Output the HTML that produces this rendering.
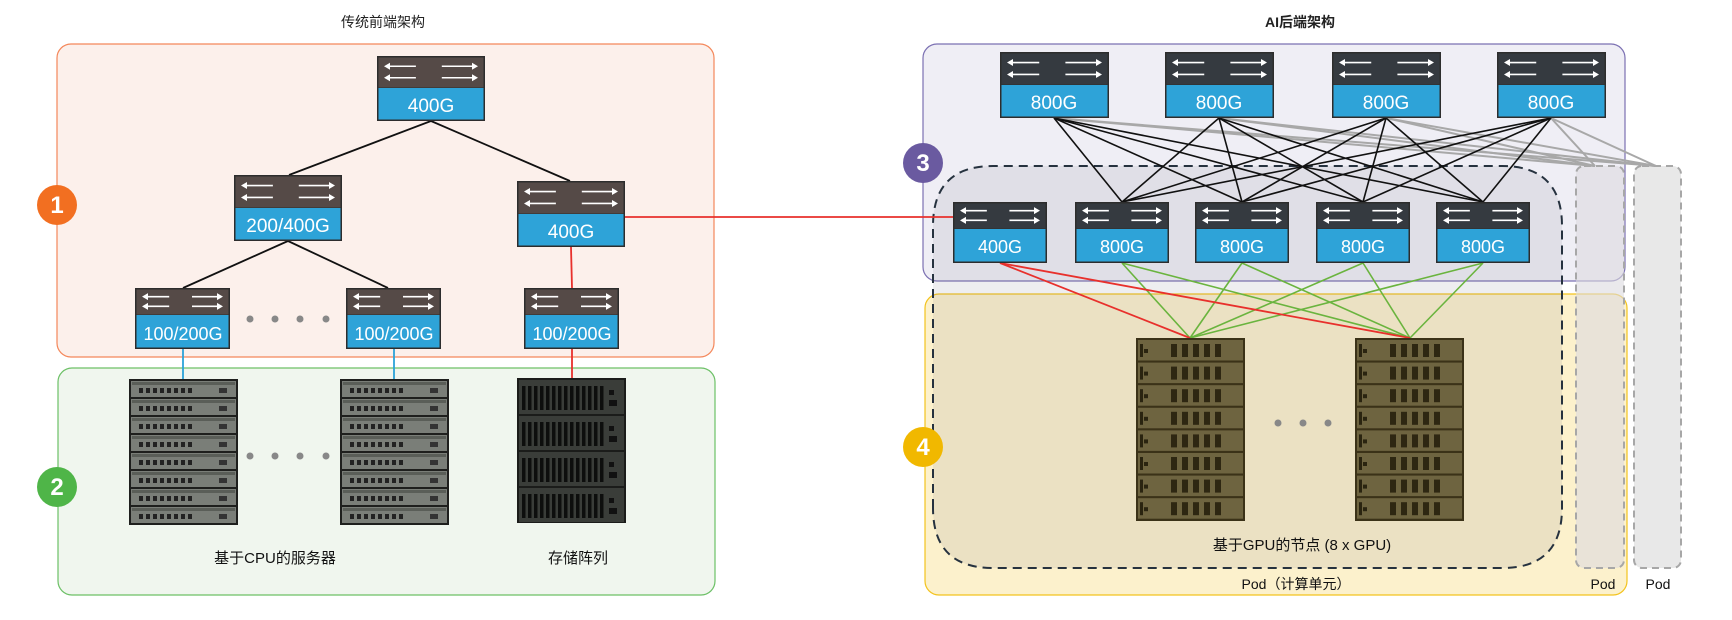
<!DOCTYPE html>
<html><head><meta charset="utf-8">
<style>
html,body{margin:0;padding:0;background:#fff;}
svg{display:block;}
text{font-family:"Liberation Sans","Noto Sans CJK SC",sans-serif;}
</style></head>
<body>
<svg id="s" width="1732" height="620" viewBox="0 0 1732 620" xmlns="http://www.w3.org/2000/svg">
<rect width="1732" height="620" fill="#fff"/>
<!-- Left boxes -->
<rect x="57" y="44" width="657" height="313" rx="14" fill="#fcf0eb" stroke="#f4875a" stroke-width="1.2"/>
<rect x="58" y="368" width="657" height="227" rx="14" fill="#f0f6ee" stroke="#6cc066" stroke-width="1.2"/>
<!-- Right boxes -->
<rect x="923" y="44" width="702" height="237" rx="14" fill="#efeef5" stroke="#7b70b2" stroke-width="1.2"/>
<rect x="925" y="294" width="702" height="301" rx="14" fill="#fcf1cc" stroke="#f3c31d" stroke-width="1.2"/>
<rect x="1576" y="166" width="48" height="402" rx="8" fill="#dcdbe0" fill-opacity="0.6" stroke="#a7a7a7" stroke-width="2" stroke-dasharray="7,5"/>
<rect x="1634" y="166" width="47" height="402" rx="8" fill="#e8e8e8" stroke="#a7a7a7" stroke-width="2" stroke-dasharray="7,5"/>
<path d="M933,508 L933,226 Q933,166 993,166 L1502,166 Q1562,166 1562,226 L1562,508 Q1562,568 1502,568 L993,568 Q933,568 933,508 Z" fill="#7a7a8a" fill-opacity="0.13" stroke="#26323f" stroke-width="2" stroke-dasharray="9,6"/>

<g id="lines"></g>
<g id="devs"></g>

<!-- Circles -->
<circle cx="57" cy="205" r="20" fill="#f26f21"/><text x="57" y="213" font-size="24" font-weight="bold" fill="#fff" text-anchor="middle">1</text>
<circle cx="57" cy="487" r="20" fill="#4fb548"/><text x="57" y="495" font-size="24" font-weight="bold" fill="#fff" text-anchor="middle">2</text>
<circle cx="923" cy="163" r="20" fill="#6a5aa0"/><text x="923" y="171" font-size="24" font-weight="bold" fill="#fff" text-anchor="middle">3</text>
<circle cx="923" cy="447" r="20" fill="#f1b800"/><text x="923" y="455" font-size="24" font-weight="bold" fill="#fff" text-anchor="middle">4</text>

<!-- Titles -->
<text x="383" y="27" font-size="14" fill="#222" text-anchor="middle">传统前端架构</text>
<text x="1300" y="27" font-size="14" font-weight="bold" fill="#222" text-anchor="middle">AI后端架构</text>
<text x="275" y="563" font-size="15" fill="#111" text-anchor="middle">基于CPU的服务器</text>
<text x="578" y="563" font-size="15" fill="#111" text-anchor="middle">存储阵列</text>
<text x="1302" y="550" font-size="15" fill="#111" text-anchor="middle">基于GPU的节点 (8 x GPU)</text>
<text x="1296" y="589" font-size="14" fill="#111" text-anchor="middle">Pod（计算单元）</text>
<text x="1603" y="589" font-size="14" fill="#111" text-anchor="middle">Pod</text>
<text x="1658" y="589" font-size="14" fill="#111" text-anchor="middle">Pod</text>

<!-- dots -->
<g fill="#888">
<circle cx="250" cy="319" r="3.5"/><circle cx="275" cy="319" r="3.5"/><circle cx="300" cy="319" r="3.5"/><circle cx="326" cy="319" r="3.5"/>
<circle cx="250" cy="456" r="3.5"/><circle cx="275" cy="456" r="3.5"/><circle cx="300" cy="456" r="3.5"/><circle cx="326" cy="456" r="3.5"/>
<circle cx="1278" cy="423" r="3.5"/><circle cx="1303" cy="423" r="3.5"/><circle cx="1328" cy="423" r="3.5"/>
</g>

<!-- switch labels -->
<g font-size="19" fill="#fff" text-anchor="middle">
<text x="431" y="112">400G</text>
<text x="288" y="232">200/400G</text>
<text x="571" y="238">400G</text>
<text x="183" y="340" font-size="18">100/200G</text>
<text x="394" y="340" font-size="18">100/200G</text>
<text x="572" y="340" font-size="18">100/200G</text>
<text x="1054" y="109">800G</text>
<text x="1219" y="109">800G</text>
<text x="1386" y="109">800G</text>
<text x="1551" y="109">800G</text>
<text x="1000" y="253" font-size="18">400G</text>
<text x="1122" y="253" font-size="18">800G</text>
<text x="1242" y="253" font-size="18">800G</text>
<text x="1363" y="253" font-size="18">800G</text>
<text x="1483" y="253" font-size="18">800G</text>
</g>
</svg>
<script>
(function(){
var NS="http://www.w3.org/2000/svg";
var L=document.getElementById('lines'),D=document.getElementById('devs');
function el(p,t,a){var e=document.createElementNS(NS,t);for(var k in a)e.setAttribute(k,a[k]);p.appendChild(e);return e;}
function ln(x1,y1,x2,y2,c,w){el(L,'line',{x1:x1,y1:y1,x2:x2,y2:y2,stroke:c,'stroke-width':w||1.5});}
ln(431,121,289,175,'#111',1.8);ln(431,121,570,181,'#111',1.8);
ln(288,241,183,288,'#111',1.8);ln(288,241,388,288,'#111',1.8);
ln(571,247,572,288,'#e8302c',1.8);
ln(183,349,183,379,'#2aa3d8',1.8);ln(394,349,394,379,'#2aa3d8',1.8);
ln(572,349,572,378,'#e8302c',1.8);
ln(625,217,953,217,'#e8302c',1.8);
var sp=[1054,1219,1386,1551],lf=[1122,1242,1363,1483];
sp.forEach(function(s){[1595,1656].forEach(function(p){ln(s,118,p,166,'#a8a8a8',2);});});
sp.forEach(function(s){lf.forEach(function(f){ln(s,118,f,202,'#111',1.6);});});
lf.forEach(function(f){[1190,1410].forEach(function(g){ln(f,263,g,338,'#6ab43e',1.6);});});
[1190,1410].forEach(function(g){ln(1000,263,g,338,'#e8302c',1.8);});
function sw(x,y,w,h,dh,dark){
 el(D,'rect',{x:x,y:y,width:w,height:h,fill:'#2d2d2d'});
 el(D,'rect',{x:x+1.5,y:y+1.5,width:w-3,height:dh-2,fill:dark});
 el(D,'rect',{x:x+1.5,y:y+dh,width:w-3,height:h-dh-1.5,fill:'#2ea3d8'});
 var ys=[y+dh*0.32,y+dh*0.68];
 ys.forEach(function(yy){
  el(D,'line',{x1:x+10,y1:yy,x2:x+w*0.36,y2:yy,stroke:'#fff','stroke-width':1.6});
  el(D,'path',{d:'M'+(x+7)+','+yy+' l6,-3.5 v7 z',fill:'#fff'});
  el(D,'line',{x1:x+w*0.6,y1:yy,x2:x+w-10,y2:yy,stroke:'#fff','stroke-width':1.6});
  el(D,'path',{d:'M'+(x+w-7)+','+yy+' l-6,-3.5 v7 z',fill:'#fff'});
 });
}
var bd='#554a47',rd='#353a40';
sw(377,56,108,65,32,bd);sw(234,175,108,66,33,bd);sw(517,181,108,66,33,bd);
sw(135,288,95,61,27,bd);sw(346,288,95,61,27,bd);sw(524,288,95,61,27,bd);
[1000,1165,1332,1497].forEach(function(x){sw(x,52,109,66,33,rd);});
[953,1075,1195,1316,1436].forEach(function(x){sw(x,202,94,61,27,rd);});
function cpu(x,y){
 el(D,'rect',{x:x,y:y,width:109,height:146,fill:'#1e1f1d'});
 for(var i=0;i<8;i++){var yy=y+2+i*18;
  el(D,'rect',{x:x+2,y:yy,width:105,height:16,fill:'#7a7e78'});
  el(D,'rect',{x:x+3,y:yy+1,width:103,height:3,fill:'#5a5e58'});
  for(var j=0;j<8;j++)el(D,'rect',{x:x+10+j*7,y:yy+7,width:4,height:5,fill:'#222'});
  el(D,'rect',{x:x+90,y:yy+7,width:8,height:5,fill:'#333'});
 }
}
cpu(129,379);cpu(340,379);
(function(x,y){
 el(D,'rect',{x:x,y:y,width:109,height:145,fill:'#1b1c1a'});
 for(var i=0;i<4;i++){var yy=y+2+i*36;
  el(D,'rect',{x:x+2,y:yy,width:105,height:34,fill:'#3a3d39'});
  for(var j=0;j<14;j++)el(D,'rect',{x:x+5+j*6,y:yy+6,width:3.5,height:24,fill:'#0d0e0d'});
  el(D,'rect',{x:x+92,y:yy+10,width:5,height:5,fill:'#111'});
  el(D,'rect',{x:x+92,y:yy+20,width:8,height:6,fill:'#111'});
 }
})(517,378);
function gpu(x,y){
 el(D,'rect',{x:x,y:y,width:109,height:183,fill:'#3b3218'});
 for(var i=0;i<8;i++){var yy=y+2+i*22.6;
  el(D,'rect',{x:x+2,y:yy,width:105,height:20.5,fill:'#6e6440'});
  el(D,'rect',{x:x+4,y:yy+4,width:3,height:13,fill:'#2a2410'});
  el(D,'rect',{x:x+8,y:yy+9,width:4,height:4,fill:'#2a2410'});
  for(var j=0;j<5;j++)el(D,'rect',{x:x+35+j*11,y:yy+4,width:6,height:13,fill:'#2e2712'});
 }
}
gpu(1136,338);gpu(1355,338);
})();
</script>
</body></html>
